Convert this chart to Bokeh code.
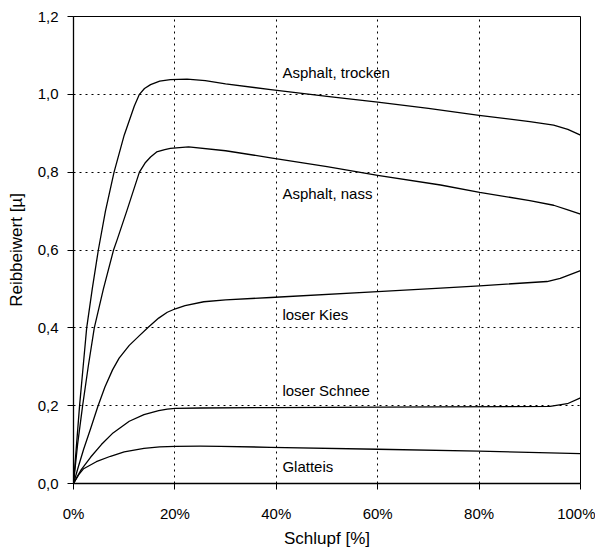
from bokeh.plotting import figure
from bokeh.models import Range1d, FixedTicker
from bokeh.core.properties import value
from bokeh.embed import file_html
from bokeh.resources import INLINE

# ---- data ----
x_trocken = [0, 0.6, 1.2, 1.9, 2.6, 3.7, 4.9, 6.3, 8.0, 10.0, 12.0, 13.0, 14.0, 15.2, 17.0, 19.1, 22.4, 26, 30, 38.9, 50, 60, 70, 80, 90, 94.7, 97.5, 100]
y_trocken = [0, 0.10, 0.20, 0.30, 0.40, 0.50, 0.60, 0.70, 0.80, 0.895, 0.970, 1.000, 1.015, 1.025, 1.034, 1.038, 1.039, 1.035, 1.027, 1.012, 0.995, 0.980, 0.964, 0.946, 0.930, 0.921, 0.910, 0.895]

x_nass = [0, 0.8, 1.8, 2.9, 4.1, 5.9, 7.9, 8.6, 10.5, 13.0, 14.2, 15.2, 16.4, 18.0, 19.1, 22.7, 30, 38.9, 50, 60, 72.4, 80.1, 90, 94.7, 97.5, 100]
y_nass = [0, 0.10, 0.20, 0.30, 0.40, 0.50, 0.60, 0.626, 0.70, 0.80, 0.825, 0.839, 0.852, 0.858, 0.861, 0.865, 0.855, 0.837, 0.814, 0.792, 0.767, 0.748, 0.727, 0.715, 0.703, 0.692]

x_kies = [0, 1.0, 2.0, 3.4, 4.8, 6.2, 7.7, 9.0, 11.0, 13.0, 14.8, 16.8, 18.5, 20.1, 22.0, 25.7, 30, 38.9, 60, 72.4, 80.1, 93.4, 96, 100]
y_kies = [0, 0.045, 0.088, 0.142, 0.198, 0.248, 0.292, 0.322, 0.355, 0.380, 0.402, 0.425, 0.440, 0.449, 0.457, 0.467, 0.472, 0.478, 0.493, 0.502, 0.508, 0.519, 0.527, 0.547]

x_schnee = [0, 1.5, 3.4, 5.5, 7.8, 11.0, 13.9, 16.8, 18.5, 20.1, 25, 38.9, 72.4, 94, 97.4, 100]
y_schnee = [0, 0.035, 0.068, 0.100, 0.130, 0.160, 0.177, 0.187, 0.191, 0.193, 0.194, 0.195, 0.197, 0.198, 0.205, 0.220]

x_glatteis = [0, 1.0, 2.0, 4.5, 7.3, 10.0, 13.9, 17.0, 20.1, 25, 29, 38.9, 60, 80, 100]
y_glatteis = [0, 0.022, 0.038, 0.056, 0.070, 0.081, 0.0905, 0.094, 0.0955, 0.0958, 0.0955, 0.093, 0.088, 0.083, 0.077]

label_texts = ["Asphalt, trocken", "Asphalt, nass", "loser Kies", "loser Schnee", "Glatteis"]
label_x = [41.2, 41.2, 41.2, 41.2, 41.2]
label_y = [1.057, 0.745, 0.435, 0.238, 0.044]

x_ticks = [0, 20, 40, 60, 80, 100]
x_tick_labels = ["0%", "20%", "40%", "60%", "80%", "100%"]
y_ticks = [0.0, 0.2, 0.4, 0.6, 0.8, 1.0, 1.2]
y_tick_labels = ["0,0", "0,2", "0,4", "0,6", "0,8", "1,0", "1,2"]

FONT = "Liberation Sans"

p = figure(width=595, height=550, output_backend="svg", toolbar_location=None,
           x_range=Range1d(0, 100), y_range=Range1d(0, 1.2),
           min_border_left=73, min_border_right=15, min_border_top=16, min_border_bottom=66)

p.outline_line_color = "black"
p.outline_line_width = 1
p.background_fill_color = "white"

for xs, ys in [(x_trocken, y_trocken), (x_nass, y_nass), (x_kies, y_kies),
               (x_schnee, y_schnee), (x_glatteis, y_glatteis)]:
    p.line(xs, ys, line_color="black", line_width=1.3, line_join="round")

p.text(x=label_x, y=label_y, text=label_texts, text_font=value(FONT),
       text_font_size="15px", text_color="black", text_align="left", text_baseline="middle")

# axes
p.xaxis.ticker = FixedTicker(ticks=x_ticks)
p.yaxis.ticker = FixedTicker(ticks=y_ticks)
p.xaxis.major_label_overrides = dict(zip(x_ticks, x_tick_labels))
p.yaxis.major_label_overrides = dict(zip(y_ticks, y_tick_labels))

for ax in (p.xaxis[0], p.yaxis[0]):
    ax.axis_line_color = "black"
    ax.axis_line_width = 1.3
    ax.major_tick_line_color = "black"
    ax.major_tick_out = 6
    ax.major_tick_in = 0
    ax.minor_tick_out = 0
    ax.minor_tick_in = 0
    ax.major_label_text_font = FONT
    ax.major_label_text_font_size = "15px"
    ax.major_label_text_color = "black"
    ax.axis_label_text_font = FONT
    ax.axis_label_text_font_size = "17px"
    ax.axis_label_text_font_style = "normal"
    ax.axis_label_text_color = "black"

p.xaxis.axis_label = "Schlupf [%]"
p.yaxis.axis_label = "Reibbeiwert [µ]"
p.xaxis.major_label_standoff = 15
p.xaxis.axis_label_standoff = 4
p.yaxis.major_label_standoff = 9
p.yaxis.axis_label_standoff = 9

# grid
for g in (p.xgrid[0], p.ygrid[0]):
    g.grid_line_color = "black"
    g.grid_line_dash = "2 4"
    g.grid_line_width = 1
p.xgrid.ticker = FixedTicker(ticks=[20, 40, 60, 80, 100])
p.ygrid.ticker = FixedTicker(ticks=[0.2, 0.4, 0.6, 0.8, 1.0])

open("out.html", "w").write(file_html(p, INLINE))
